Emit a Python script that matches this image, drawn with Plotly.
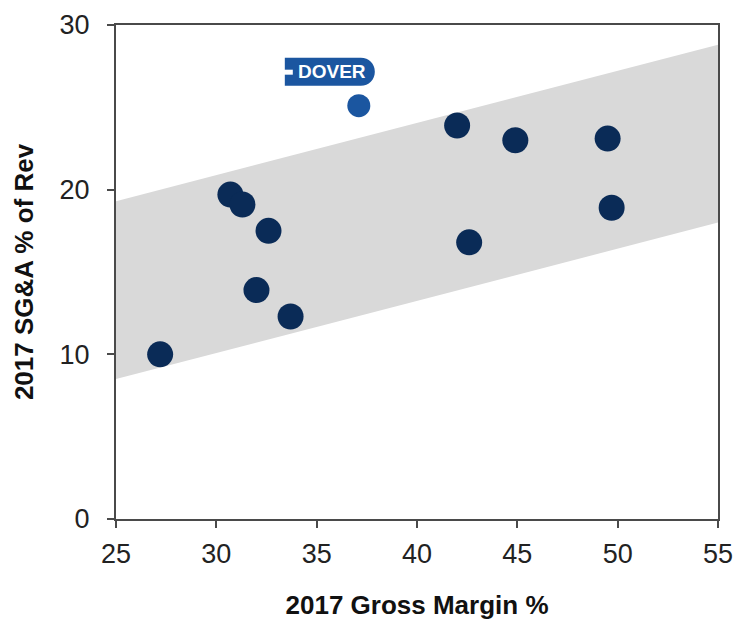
import plotly.graph_objects as go

# 2017 gross margin vs SG&A for the peer group
gross_margin = [27.2, 30.7, 31.3, 32.6, 32.0, 33.7, 42.0, 42.6, 44.9, 49.5, 49.7]
sga_pct = [10.0, 19.7, 19.1, 17.5, 13.9, 12.3, 23.9, 16.8, 23.0, 23.1, 18.9]

# Dover
dover_gm = [37.1]
dover_sga = [25.1]

# Shaded peer corridor (lower and upper edges)
band_x = [25, 55]
band_lo = [8.5, 18.0]
band_hi = [19.3, 28.8]

x_ticks = [25, 30, 35, 40, 45, 50, 55]
y_ticks = [0, 10, 20, 30]

NAVY = "#0a2b57"
DOVER_BLUE = "#1b56a0"
FONT = "Liberation Sans, Arial, sans-serif"

fig = go.Figure()

fig.add_trace(go.Scatter(
    x=band_x + band_x[::-1], y=band_lo + band_hi[::-1],
    fill="toself", fillcolor="#d9d9d9", mode="lines",
    line=dict(width=0), hoverinfo="skip", showlegend=False,
))

fig.add_trace(go.Scatter(
    x=gross_margin, y=sga_pct, mode="markers",
    marker=dict(size=26, color=NAVY), showlegend=False,
))

fig.add_trace(go.Scatter(
    x=dover_gm, y=dover_sga, mode="markers",
    marker=dict(size=23, color=DOVER_BLUE), showlegend=False,
))

# Dover wordmark badge above its point
fig.add_shape(
    type="path", xref="x", yref="y", xsizemode="pixel", ysizemode="pixel",
    xanchor=dover_gm[0], yanchor=dover_sga[0],
    path="M -74,20 L 2,20 C 10,20 16,26 16,34 C 16,42 10,48 2,48 L -74,48 Z",
    fillcolor=DOVER_BLUE, line=dict(width=0), layer="above",
)
fig.add_shape(
    type="rect", xref="x", yref="y", xsizemode="pixel", ysizemode="pixel",
    xanchor=dover_gm[0], yanchor=dover_sga[0],
    x0=-75, x1=-66, y0=31, y1=36,
    fillcolor="white", line=dict(width=0), layer="above",
)
fig.add_annotation(
    x=dover_gm[0], y=dover_sga[0], xref="x", yref="y",
    text="<b>DOVER</b>", showarrow=False,
    xshift=-27, yshift=34,
    font=dict(family="Liberation Sans Narrow, Arial Narrow, sans-serif", size=19, color="white"),
)

axis_common = dict(
    showline=True, linecolor="#4a4a4a", linewidth=2, mirror=True,
    showgrid=False, zeroline=False, automargin=False,
    ticks="outside", ticklen=7, tickwidth=2, tickcolor="#4a4a4a",
    tickfont=dict(family=FONT, size=27, color="#222222"),
)

fig.update_xaxes(
    range=[25, 55], tickvals=x_ticks, ticklabelstandoff=3,
    title=dict(text="<b>2017 Gross Margin %</b>", standoff=30,
               font=dict(family=FONT, size=26, color="#111111")),
    **axis_common,
)
fig.update_yaxes(
    range=[0, 30], tickvals=y_ticks, ticklabelstandoff=12,
    title=dict(text="<b>2017 SG&A % of Rev</b>", standoff=18,
               font=dict(family=FONT, size=26, color="#111111")),
    **axis_common,
)

fig.update_layout(
    width=736, height=620,
    margin=dict(l=116, r=18, t=25, b=101),
    plot_bgcolor="white", paper_bgcolor="white",
    showlegend=False,
)

fig.write_html("out.html")
